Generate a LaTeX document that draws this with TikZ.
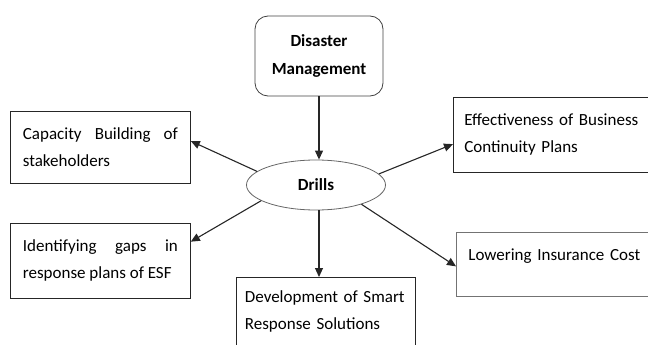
\documentclass[tikz,border=0pt]{standalone}
\usepackage{fontspec}
\setmainfont{Carlito}
\usetikzlibrary{shapes.geometric, arrows.meta, positioning, calc}
\hyphenpenalty=10000

\begin{document}
\begin{tikzpicture}[
    x=1pt, y=-1pt,
    font=\fontsize{17}{27}\selectfont,
    box/.style={rectangle, draw=black!85, line width=0.8pt, anchor=north west, inner ysep=0pt},
    rbox/.style={rectangle, rounded corners=13pt, draw=black!75, line width=0.8pt, minimum width=128pt, minimum height=80pt, align=center, font=\fontsize{17}{28}\selectfont\bfseries},
    hub/.style={ellipse, draw=black!60, line width=0.8pt, minimum width=139pt, minimum height=50pt, inner sep=0pt, font=\fontsize{17}{27}\selectfont\bfseries},
    arrow/.style={-{Triangle[length=9pt, width=8pt]}, line width=1.1pt, black!85}
]
    \clip (0,0) rectangle (648,345);

    % Top and centre
    \node[rbox] (dm) at (319,56) {Disaster\\Management};
    \node[hub] (drills) at (316,185) {Drills};

    % Left boxes
    \node[box, minimum width=180pt, minimum height=72pt, text width=155pt, inner xsep=12.5pt, align=justify] (cap) at (10,111) {Capacity Building of stakeholders};
    \node[box, minimum width=180pt, minimum height=75pt, text width=155pt, inner xsep=12.5pt, align=justify] (ident) at (10,223) {Identifying gaps in response plans of ESF};

    % Right boxes
    \node[box, minimum width=210pt, minimum height=75pt, text width=188pt, inner xsep=11pt, align=left] (effect) at (453,97) {Effectiveness of Business\\Continuity Plans};
    \node[box, draw=black!55, text width=200pt, inner xsep=12pt, inner ysep=17pt, text height=11pt, text depth=19pt, align=left] (lower) at (456,232) {Lowering Insurance Cost};

    % Bottom box
    \node[box, text width=162pt, inner xsep=8.5pt, inner ysep=14pt, text height=11pt, text depth=50pt, align=left] (dev) at (236,277) {Development of Smart\\Response Solutions};

    % Arrows
    \draw[arrow] (dm.south) -- (dm.south |- drills.north);
    \draw[arrow] (drills.south -| dm.south) -- (dev.north -| dm.south);
    \draw[arrow] (drills.167) -- (cap.4);
    \draw[arrow] (drills.196) -- (ident.12);
    \draw[arrow] (drills.10) -- (effect.185);
    \draw[arrow] (drills.337) -- (lower.181);

\end{tikzpicture}
\end{document}
